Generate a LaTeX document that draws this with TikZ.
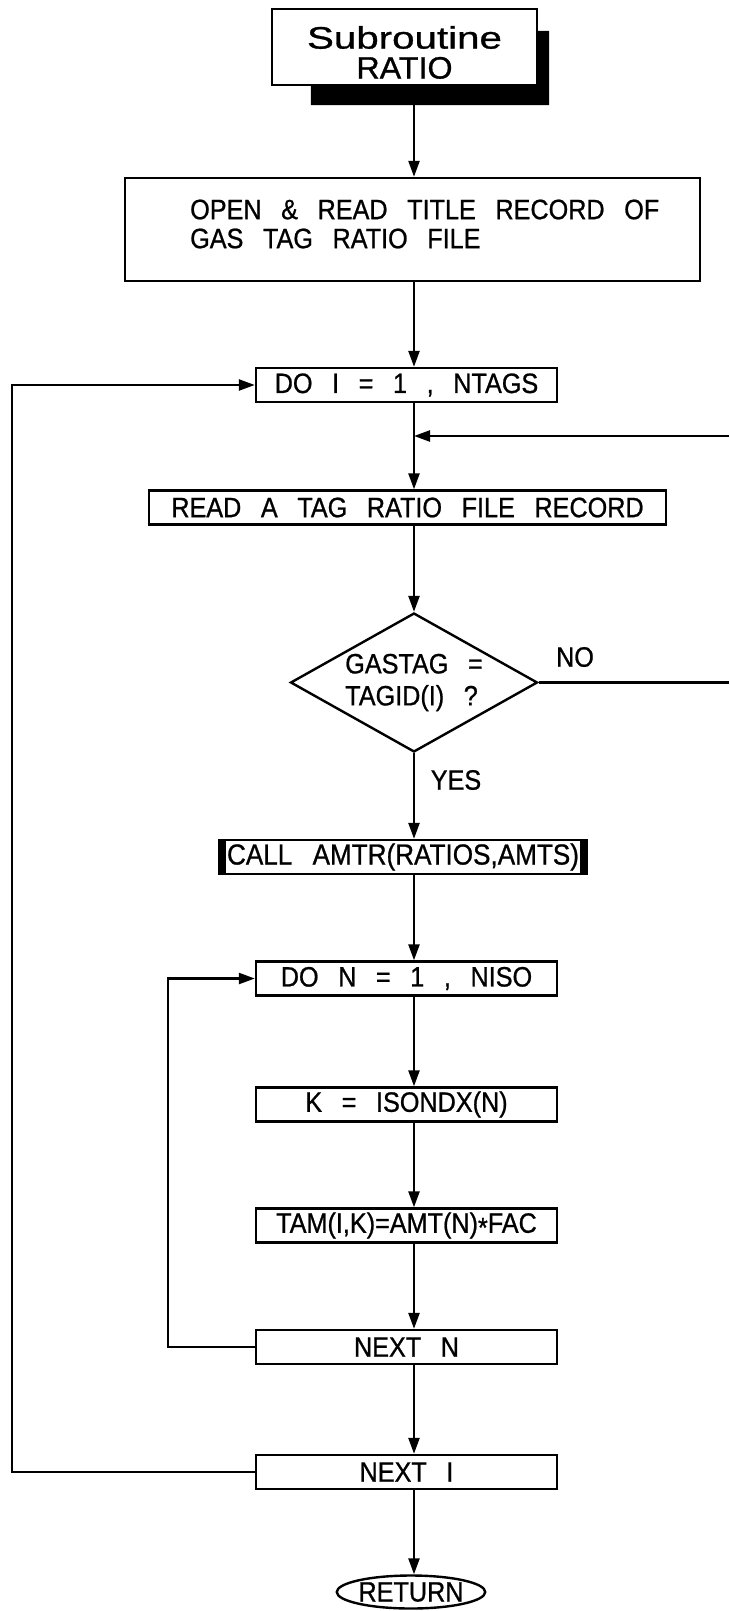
\documentclass[tikz,border=0pt]{standalone}
\usepackage{fontspec}
\setmainfont{Liberation Sans}[WordSpace=2.8, FakeStretch=0.9, FakeBold=0.8]
\newfontfamily\titlefont{Liberation Sans}[FakeStretch=1.3, FakeBold=1]
\usetikzlibrary{shapes.geometric, arrows.meta, calc}
\newcommand{\boxfont}{\fontsize{28}{29}\selectfont}
\tikzstyle{titlebox} = [rectangle, minimum width=265pt, minimum height=76pt, inner sep=0pt, draw=black, line width=2.4pt]
\tikzstyle{titletxt} = [fill=none, align=center, inner sep=0pt, font=\titlefont\fontsize{31}{30}\selectfont]
\tikzstyle{stepbox} = [rectangle, minimum width=301pt, minimum height=34pt, inner sep=0pt, text centered, draw=black, line width=2.4pt]
\tikzstyle{decision} = [diamond, aspect=1.8, minimum width=247pt, minimum height=139pt, inner sep=0pt, align=left, draw=black, line width=2.4pt, font=\fontsize{28}{32}\selectfont]
\tikzstyle{terminal} = [ellipse, minimum width=132pt, minimum height=33pt, inner sep=0pt, draw=black, line width=2.4pt]
\tikzstyle{answer} = [inner sep=2pt]
\tikzstyle{arrow} = [line width=2.4pt,->,>={Triangle[length=16pt,width=11pt]}]
\tikzstyle{line} = [line width=2.4pt,-]
\begin{document}
\begin{tikzpicture}[x=1pt, y=-1pt, every node/.style={fill=white, font=\boxfont}]
\useasboundingbox (0,0) rectangle (729,1611);
\coordinate (axis) at (414,0);
\coordinate (outer) at (12,0);
\coordinate (inner) at (168,0);
\coordinate (edge) at (729,436);

% Title
\node (title) [titlebox] at (404.5,47) {};
\node (titletext) [titletxt] at (404.5,52.5) {Subroutine\\\scalebox{0.8}[1]{RATIO}};
\fill ($(title.south west)+(40,0)$) -- (title.south east) -- ($(title.north east)+(0,23)$) -- ++(11,0) -- ($(title.south east)+(11,19)$) -- ($(title.south west)+(40,19)$) -- cycle;

% Main column
\node (open) [stepbox, minimum width=575pt, minimum height=103pt] at (412.5,229.5) {};
\node (opentext) [fill=none, inner sep=0pt, align=left, anchor=west] at (190,224) {OPEN \& READ TITLE RECORD OF\\GAS TAG RATIO FILE};
\node (doI) [stepbox] at (406.5,385) {DO I = 1 , NTAGS};
\node (read) [stepbox, minimum width=517pt] at (407.5,507.5) {READ A TAG RATIO FILE RECORD};
\node (gas) [decision] at (414,682.5) {GASTAG =\\TAGID(I) ?};
\node (call) [stepbox, minimum width=368pt, font=\fontsize{29}{30}\selectfont] at (403,857) {CALL AMTR(RATIOS,AMTS)};
\fill (call.north west) rectangle ($(call.south west)+(8,0)$);
\fill ($(call.north east)+(-8,0)$) rectangle (call.south east);

% Inner loop
\node (doN) [stepbox] at (406.5,978.5) {DO N = 1 , NISO};
\node (kset) [stepbox] at (406.5,1104.5) {K = ISONDX(N)};
\node (tam) [stepbox] at (406.5,1225.5) {TAM(I,K)=AMT(N)\raisebox{-0.3ex}{*}FAC};
\node (nextN) [stepbox] at (406.5,1347) {NEXT N};
\node (nextI) [stepbox] at (406.5,1472) {NEXT I};
\node (ret) [terminal] at (411,1592) {RETURN};

% Labels
\node (no) [answer] at (575,657) {NO};
\node (yes) [answer] at (456,780) {YES};

% Connectors
\draw[arrow] ($(title.south -| axis)+(0,19)$) -- (open.north -| axis);
\draw[arrow] (open.south -| axis) -- (doI.north -| axis);
\draw[arrow] (doI.south -| axis) -- (read.north -| axis);
\draw[arrow] (edge) -- (edge -| axis);
\draw[arrow] (read.south -| axis) -- (gas.north);
\draw[line] (gas.east) -- (gas.east -| edge);
\draw[arrow] (gas.south) -- (call.north -| axis);
\draw[arrow] (call.south -| axis) -- (doN.north -| axis);
\draw[arrow] (doN.south -| axis) -- (kset.north -| axis);
\draw[arrow] (kset.south -| axis) -- (tam.north -| axis);
\draw[arrow] (tam.south -| axis) -- (nextN.north -| axis);
\draw[arrow] (nextN.south -| axis) -- (nextI.north -| axis);
\draw[arrow] (nextI.south -| axis) -- (ret.north -| axis);
\draw[arrow] (nextN.west) -- (nextN.west -| inner) -- (doN.west -| inner) -- (doN.west);
\draw[arrow] (nextI.west) -- (nextI.west -| outer) -- (doI.west -| outer) -- (doI.west);

\end{tikzpicture}
\end{document}
